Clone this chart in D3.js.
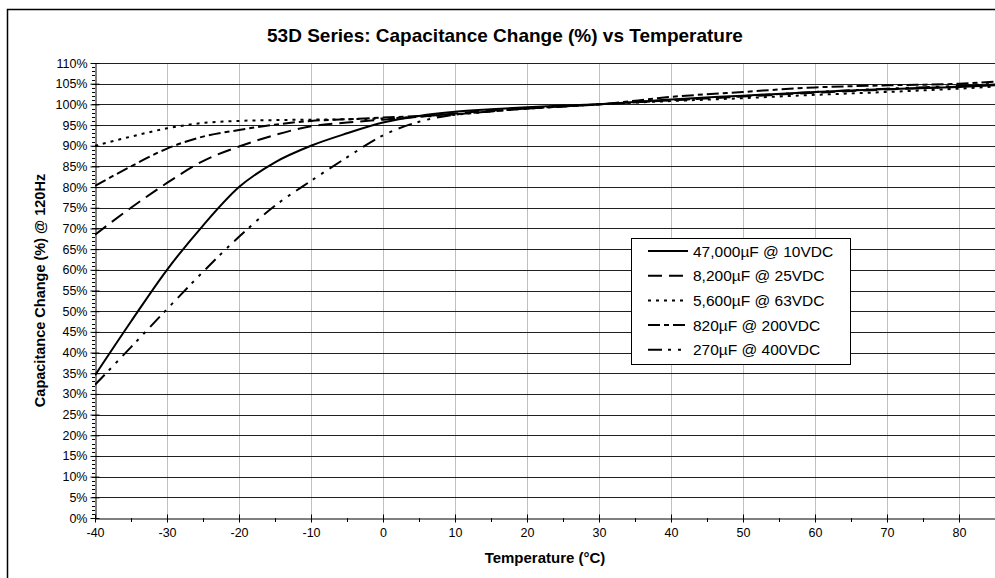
<!DOCTYPE html>
<html>
<head>
<meta charset="utf-8">
<script src="https://cdn.jsdelivr.net/npm/d3@7"></script>
<style>
  html, body { margin: 0; padding: 0; background: #fff; }
  svg { display: block; font-family: "Liberation Sans", Arial, sans-serif; }
</style>
</head>
<body>
<svg id="chart" width="995" height="578"></svg>
<script>
// ---- data ----
const temps = [-40, -35, -30, -25, -20, -15, -10, -5, 0, 5, 10, 15, 20, 25, 30, 40, 50, 60, 70, 80, 85];
const cap47000 = [34.5, 47.5, 60, 70.7, 80, 86, 90, 93, 95.6, 97.2, 98.2, 98.8, 99.3, 99.7, 100, 101.2, 102.1, 103, 103.7, 104.2, 104.6];
const cap8200  = [68.5, 75, 81, 86.3, 89.8, 92.6, 94.7, 95.6, 96.3, 97, 97.8, 98.5, 99, 99.5, 100, 101, 101.9, 102.8, 103.6, 104.3, 104.8];
const cap5600  = [90, 92.2, 94.2, 95.5, 96, 96.2, 96.3, 96.4, 96.6, 97, 97.5, 98.3, 99, 99.5, 100, 100.8, 101.5, 102.3, 103, 103.8, 104.3];
const cap820   = [80.3, 85, 89.3, 92.2, 93.8, 95.1, 96, 96.4, 96.8, 97.2, 97.6, 98.3, 99, 99.5, 100, 101.8, 103, 104.1, 104.6, 105, 105.5];
const cap270   = [32.2, 41.3, 50.5, 59.5, 68, 75.5, 81.5, 87.2, 92.5, 95.8, 97.5, 98.3, 99, 99.5, 100, 101, 102, 103, 103.8, 104.5, 105];
const seriesNames = ["47,000µF @ 10VDC", "8,200µF @ 25VDC", "5,600µF @ 63VDC", "820µF @ 200VDC", "270µF @ 400VDC"];
const seriesValues = [cap47000, cap8200, cap5600, cap820, cap270];
const seriesDash = [null, "14,7", "3,5", "12,4,5,4", "14,6,3,7,3,7"];
const xTicks = [-40, -30, -20, -10, 0, 10, 20, 30, 40, 50, 60, 70, 80];
const yTicks = [0, 5, 10, 15, 20, 25, 30, 35, 40, 45, 50, 55, 60, 65, 70, 75, 80, 85, 90, 95, 100, 105, 110];
const titleText = "53D Series: Capacitance Change (%) vs Temperature";
const xTitle = "Temperature (°C)";
const yTitle = "Capacitance Change (%) @ 120Hz";

// ---- layout ----
const svg = d3.select("#chart");
const L = 95, R = 995, T = 63, B = 518;
const x = d3.scaleLinear().domain([-40, 85]).range([L, R]);
const y = d3.scaleLinear().domain([0, 110]).range([B, T]);

// chart border
svg.append("path").attr("d", "M7.5,600 V9.5 H1000")
  .attr("fill", "none").attr("stroke", "#000").attr("stroke-width", 1.5);

// title
svg.append("text").attr("x", 505).attr("y", 42).attr("text-anchor", "middle")
  .attr("font-size", 19).attr("font-weight", "bold").text(titleText);

// grid
const g = svg.append("g");
g.selectAll(".vg").data(xTicks.filter(d => d > -40)).join("line")
  .attr("x1", d => Math.round(x(d)) + 0.5).attr("x2", d => Math.round(x(d)) + 0.5)
  .attr("y1", T).attr("y2", B).attr("stroke", "#c0c0c0").attr("stroke-width", 1);
g.selectAll(".hg").data(yTicks.filter(d => d > 0)).join("line")
  .attr("x1", L).attr("x2", R)
  .attr("y1", d => Math.round(y(d)) + 0.5).attr("y2", d => Math.round(y(d)) + 0.5)
  .attr("stroke", "#202020").attr("stroke-width", 1);

// y axis minor ticks
const yMinor = d3.range(0, 111, 1);
svg.append("g").selectAll("line").data(yMinor).join("line")
  .attr("x1", L - 3).attr("x2", L)
  .attr("y1", d => Math.round(y(d)) + 0.5).attr("y2", d => Math.round(y(d)) + 0.5)
  .attr("stroke", "#000").attr("stroke-width", 1);

// y axis
const yAxis = d3.axisLeft(y).tickValues(yTicks).tickFormat(d => d + "%").tickSizeInner(5).tickSizeOuter(0).tickPadding(3);
const ya = svg.append("g").attr("transform", `translate(${L + 0.5},0)`).call(yAxis);
ya.selectAll("text").attr("font-size", 12.5).attr("font-family", "Liberation Sans, Arial, sans-serif").attr("fill", "#000");
ya.selectAll("line").attr("x2", -5).attr("x1", 4).attr("stroke", "#000");
ya.select(".domain").attr("stroke", "#000");

// x axis minor ticks
const xMinor = d3.range(-35, 86, 10);
svg.append("g").selectAll("line").data(xMinor).join("line")
  .attr("x1", d => Math.round(x(d)) + 0.5).attr("x2", d => Math.round(x(d)) + 0.5)
  .attr("y1", B).attr("y2", B + 4).attr("stroke", "#000");

// x axis
const xAxis = d3.axisBottom(x).tickValues(xTicks).tickFormat(d => String(d)).tickSizeInner(4).tickSizeOuter(0).tickPadding(6);
const xa = svg.append("g").attr("transform", `translate(0,${B + 0.5})`).call(xAxis);
xa.selectAll("text").attr("font-size", 12.5).attr("font-family", "Liberation Sans, Arial, sans-serif").attr("fill", "#000");
xa.selectAll("line").attr("y1", -4).attr("y2", 4).attr("stroke", "#000");
xa.select(".domain").attr("stroke", "#000");

// axis titles
svg.append("text").attr("x", 545).attr("y", 563).attr("text-anchor", "middle")
  .attr("font-size", 15).attr("font-weight", "bold").text(xTitle);
svg.append("text").attr("transform", `translate(45,${(T + B) / 2}) rotate(-90)`)
  .attr("text-anchor", "middle").attr("font-size", 14.5).attr("font-weight", "bold").text(yTitle);

// curves
svg.append("clipPath").attr("id", "clip").append("rect")
  .attr("x", L).attr("y", T - 5).attr("width", R - L).attr("height", B - T + 5);
const line = d3.line().x(d => x(d[0])).y(d => y(d[1])).curve(d3.curveMonotoneX);
const curves = svg.append("g").attr("clip-path", "url(#clip)");
seriesValues.forEach((vals, i) => {
  curves.append("path")
    .datum(temps.map((t, j) => [t, vals[j]]))
    .attr("d", line)
    .attr("fill", "none").attr("stroke", "#000").attr("stroke-width", 2)
    .attr("stroke-dasharray", seriesDash[i]);
});

// legend
const lg = svg.append("g");
lg.append("rect").attr("x", 631.5).attr("y", 238.5).attr("width", 219).attr("height", 126)
  .attr("fill", "#fff").attr("stroke", "#000").attr("stroke-width", 1);
seriesNames.forEach((name, i) => {
  const cy = 251 + i * 24.7;
  lg.append("line").attr("x1", 648).attr("x2", 688).attr("y1", cy).attr("y2", cy)
    .attr("stroke", "#000").attr("stroke-width", 2).attr("stroke-dasharray", seriesDash[i]);
  lg.append("text").attr("x", 693).attr("y", cy + 5.5).attr("font-size", 15.5).text(name);
});
</script>
</body>
</html>
